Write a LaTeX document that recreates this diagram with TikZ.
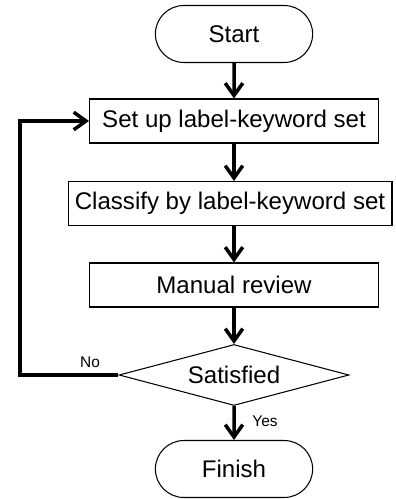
\documentclass[tikz,border=0pt]{standalone}
\usepackage{fontspec}
\setmainfont{Liberation Sans}
\usetikzlibrary{shapes.misc, shapes.geometric, arrows.meta}

\begin{document}
\begin{tikzpicture}[x=0.02cm, y=-0.02cm,
	every node/.style={font=\fontsize{13.7}{16}\selectfont},
	terminal/.style={draw, rounded rectangle, line width=0.6pt, minimum width=3.38cm, minimum height=1.14cm},
	process/.style={draw, rectangle, line width=0.6pt, minimum height=0.88cm, inner sep=0pt},
	decision/.style={draw, diamond, line width=0.6pt, aspect=3.8, minimum width=4.6cm, minimum height=1.22cm, inner sep=0pt},
	flow/.style={line width=2pt, -{Straight Barb[length=7pt,width=10pt]}},
	answer/.style={font=\fontsize{8.8}{10}\selectfont}]

	\useasboundingbox (0,0) rectangle (395,499);

	\node[terminal] (start) at (234,34) {Start};
	\node[process, minimum width=5.78cm] (setup) at (234,121) {Set up label-keyword set};
	\node[process, minimum width=6.48cm] (classify) at (230,203.5) {Classify by label-keyword set};
	\node[process, minimum width=5.78cm] (review) at (234,285) {Manual review};
	\node[decision] (satisfied) at (234,375) {Satisfied};
	\node[terminal] (finish) at (234,469) {Finish};

	\coordinate (loopdown) at (20,375);
	\coordinate (loopup) at (20,121);

	\draw[flow] (start) -- (setup);
	\draw[flow] (setup.south) -- (setup.south |- classify.north);
	\draw[flow] (review.north |- classify.south) -- (review.north);
	\draw[flow] (review) -- (satisfied);
	\draw[flow] (satisfied) -- (finish);
	\draw[flow] (satisfied.west) -- (loopdown) -- (loopup) -- (setup.west);

	\node[answer] (no) at (90,362) {No};
	\node[answer] (yes) at (265,421) {Yes};
\end{tikzpicture}
\end{document}
